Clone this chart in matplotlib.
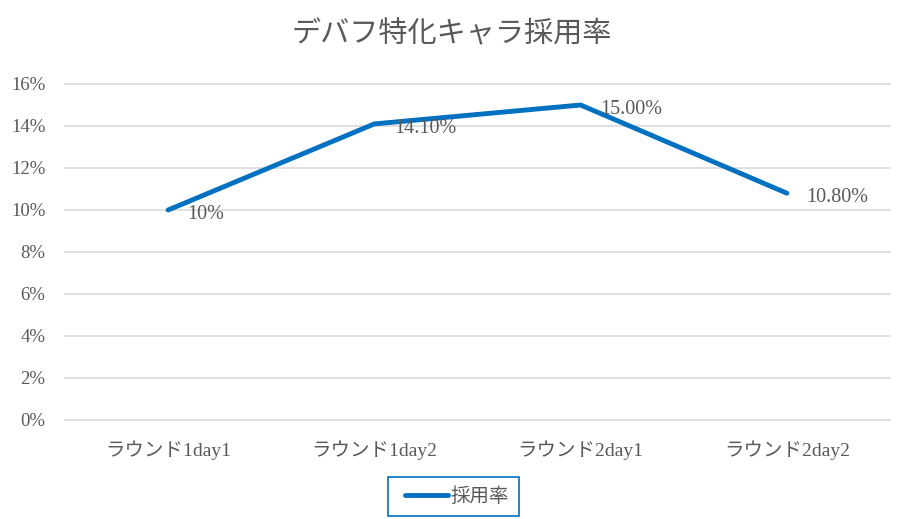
import matplotlib
matplotlib.use("Agg")
import matplotlib.pyplot as plt
from matplotlib.patches import Rectangle
from matplotlib.ticker import FuncFormatter

categories = ["ラウンド1day1", "ラウンド1day2", "ラウンド2day1", "ラウンド2day2"]
values = [0.10, 0.141, 0.15, 0.108]
value_labels = ["10%", "14.10%", "15.00%", "10.80%"]
series_name = "採用率"
title = "デバフ特化キャラ採用率"

FAM = ["Liberation Serif", "Noto Sans CJK JP", "DejaVu Sans"]
plt.rcParams["font.family"] = FAM
TXT = "#595959"
BLUE = "#0070C0"

fig = plt.figure(figsize=(9.03, 5.19), dpi=100)
ax = fig.add_axes([65/903, 1-420/519, (890-65)/903, (420-84)/519])

x = list(range(len(categories)))
ax.plot(x, values, color=BLUE, linewidth=3.5, solid_capstyle="round", label=series_name, zorder=3)
for xi, v, lab in zip(x, values, value_labels):
    ax.annotate(lab, (xi, v), xytext=(14, -3), textcoords="offset points",
                ha="left", va="center", fontsize=14.5, color=TXT)

ax.set_xlim(-0.5, len(categories) - 0.5)
ax.set_ylim(0, 0.16)
ax.set_yticks([i * 0.02 for i in range(9)])
ax.yaxis.set_major_formatter(FuncFormatter(lambda v, p: f"{v*100:.0f}%"))
ax.set_xticks(x)
ax.set_xticklabels(categories)
ax.grid(axis="y", color="#D9D9D9", linewidth=1.2)
for gl in ax.get_ygridlines():
    gl.set_clip_on(False)
ax.set_axisbelow(True)
for s in ax.spines.values():
    s.set_visible(False)
ax.tick_params(axis="y", length=0, labelsize=13.5, labelcolor=TXT, pad=14)
ax.tick_params(axis="x", length=0, labelsize=14, labelcolor=TXT, pad=14.5)

fig.text(0.5, 1 - 35/519, title, ha="center", va="center", fontsize=21, color=TXT)

leg = ax.legend(loc="center", bbox_to_anchor=(457/903, 1 - 496.5/519), bbox_transform=fig.transFigure,
                frameon=False, handlelength=2.2, handletextpad=0.1,
                prop={"family": ["Noto Sans CJK JP"], "size": 14}, borderpad=0.3,
                borderaxespad=0)
for t in leg.get_texts():
    t.set_color(TXT)
fig.patches.append(Rectangle((388/903, 1 - 516/519), 131/903, 39/519, transform=fig.transFigure,
                             fill=False, edgecolor=BLUE, linewidth=1.2))

fig.savefig("out.png", dpi=100)
